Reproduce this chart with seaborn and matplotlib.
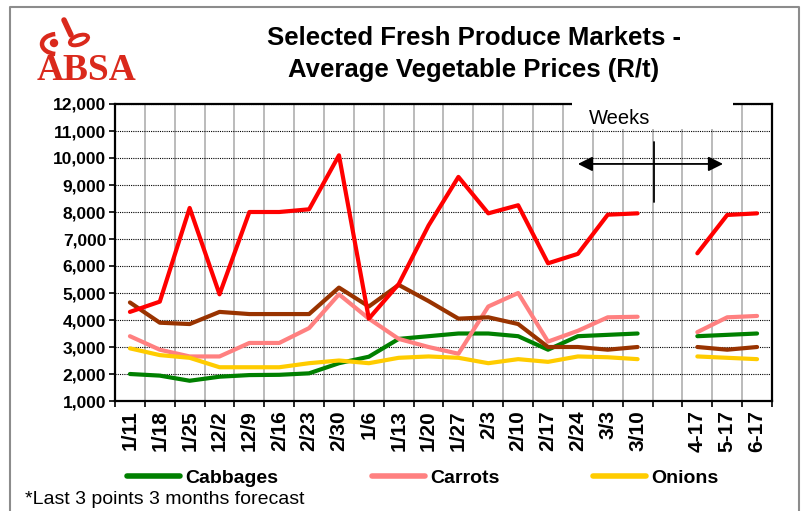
import numpy as np
import pandas as pd
import seaborn as sns
import matplotlib.pyplot as plt
from matplotlib.lines import Line2D
from matplotlib.patches import Rectangle, Circle, Arc, Ellipse

# weekly labels, the gap before the forecast months is left blank
weeks = ['1/11', '1/18', '1/25', '12/2', '12/9', '2/16', '2/23', '2/30', '1/6', '1/13', '1/20',
         '1/27', '2/3', '2/10', '2/17', '2/24', '3/3', '3/10', '', '4-17', '5-17', '6-17']
nan = np.nan
cabbages = [2000, 1940, 1750, 1900, 1960, 1970, 2025, 2400, 2640, 3300, 3400,
            3500, 3500, 3400, 2900, 3400, 3450, 3500, nan, 3400, 3450, 3500]
carrots = [3400, 2900, 2650, 2650, 3150, 3150, 3700, 4950, 4050, 3300, 3000,
           2750, 4500, 5000, 3200, 3600, 4100, 4120, nan, 3550, 4100, 4150]
onions = [2950, 2700, 2600, 2250, 2250, 2250, 2400, 2500, 2400, 2600, 2650,
          2600, 2400, 2550, 2450, 2650, 2620, 2550, nan, 2650, 2600, 2550]
potatoes = [4650, 3900, 3850, 4300, 4220, 4220, 4220, 5200, 4500, 5300, 4700,
            4050, 4100, 3850, 3000, 3000, 2900, 3000, nan, 3000, 2900, 3000]
tomatoes = [4300, 4680, 8150, 4950, 8000, 8000, 8100, 10100, 4050, 5330, 7500,
            9300, 7950, 8250, 6100, 6450, 7900, 7950, nan, 6470, 7890, 7950]

series = {'Cabbages': cabbages, 'Carrots': carrots, 'Onions': onions,
          'Potatoes': potatoes, 'Tomatoes': tomatoes}
colors = {'Cabbages': '#008000', 'Carrots': '#FF8080', 'Onions': '#FFCC00',
          'Potatoes': '#993300', 'Tomatoes': '#FF0000'}

# long table, a segment id splits the weekly part from the forecast part
rows = []
for veg, vals in series.items():
    for i, v in enumerate(vals):
        if not np.isnan(v):
            rows.append({'idx': i, 'price': v, 'veg': veg, 'seg': int(i > 18)})
df = pd.DataFrame(rows)

sns.set_style('white')
plt.rcParams['font.family'] = ['Liberation Sans', 'DejaVu Sans']
plt.rcParams['text.color'] = 'black'
plt.rcParams['xtick.color'] = 'black'
plt.rcParams['ytick.color'] = 'black'

fig = plt.figure(figsize=(8.04, 5.11), dpi=100)
ax = fig.add_axes([115/804, 1-401/511, 657/804, 297/511])

sns.lineplot(data=df, x='idx', y='price', hue='veg', units='seg', estimator=None,
             palette=colors, hue_order=list(series), lw=3, legend=False, ax=ax)

ax.set_xlim(-0.5, len(weeks) - 0.5)
ax.set_ylim(1000, 12000)
ax.set_xticks(range(len(weeks)))
ax.set_xticklabels(weeks, rotation=90, fontsize=15, fontweight='bold')
ax.set_xticks(np.arange(-0.5, len(weeks), 1), minor=True)
yt = np.arange(1000, 12001, 1000)
ax.set_yticks(yt)
ax.set_yticklabels([f'{v:,}' for v in yt], fontsize=12.5, fontweight='bold')
ax.set_xlabel('')
ax.set_ylabel('')
ax.tick_params(axis='x', which='major', length=0, pad=6.5)
ax.tick_params(axis='x', which='minor', length=4.3, width=1.2, color='black', direction='out', bottom=True)
ax.tick_params(axis='y', length=4.3, width=1.2, color='black', direction='out', pad=2, left=True)

ax.set_axisbelow(True)
ax.grid(axis='x', which='minor', color='#b5b5b5', lw=1.3, ls='-')
ax.grid(axis='y', which='major', color='black', lw=0.8, ls=(0, (1, 1)))
for s in ax.spines.values():
    s.set_color('black')
    s.set_linewidth(1.6)

# white label box over the top spine, with the "Weeks" marker
ax.add_patch(Rectangle((14.8, 11070), 5.4, 1200, facecolor='white', edgecolor='none',
                       zorder=10, clip_on=False))
ax.text(16.4, 11480, 'Weeks', fontsize=14.5, ha='center', va='center', zorder=11)
ax.annotate('', xy=(15.0, 9780), xytext=(19.86, 9780),
            arrowprops=dict(arrowstyle='<|-|>', color='black', lw=1.3,
                            mutation_scale=22, shrinkA=0, shrinkB=0), zorder=11)
ax.plot([17.55, 17.55], [8370, 10590], color='black', lw=1.3, zorder=11)

# titles
fig.text(474/804, 1-38/511, 'Selected Fresh Produce Markets -', fontsize=18.5,
         fontweight='bold', ha='center', va='center')
fig.text(474/804, 1-70/511, 'Average Vegetable Prices (R/t)', fontsize=18.5,
         fontweight='bold', ha='center', va='center')

# legend shows only the first three series
handles = [Line2D([], [], color=colors[k], lw=4, solid_capstyle='round') for k in ['Cabbages', 'Carrots', 'Onions']]
fig.legend(handles, ['Cabbages', 'Carrots', 'Onions'], loc='center left',
           bbox_to_anchor=(127/804, 1-478/511), ncol=3, frameon=False,
           prop={'size': 14, 'weight': 'bold'}, handlelength=2.75,
           handletextpad=0.25, columnspacing=4.8, borderpad=0, borderaxespad=0)

fig.text(25/804, 1-500/511, '*Last 3 points 3 months forecast', fontsize=14,
         ha='left', va='center')

# overlay in pixel units for the frame and the logo
ov = fig.add_axes([0, 0, 1, 1], zorder=-1)
ov.set_xlim(0, 804)
ov.set_ylim(511, 0)
ov.axis('off')
ov.plot([10, 10, 799, 799], [515, 7, 7, 515], color='#8c8c8c', lw=1.5)
red = '#DA291C'
ov.text(87, 71, 'ABSA', fontsize=27, family='Liberation Serif', fontweight='bold',
        color=red, ha='center', va='center')
ov.add_patch(Circle((54, 43), 3.5, color=red))
ov.add_patch(Arc((57, 44), 30, 20, theta1=100, theta2=260, color=red, lw=3.2))
ov.plot([64, 71], [20, 35], color=red, lw=4, solid_capstyle='round')
ov.add_patch(Ellipse((79, 40), 19, 9, angle=-20, fill=False, edgecolor=red, lw=2.8))

fig.savefig('out.png', dpi=100)
